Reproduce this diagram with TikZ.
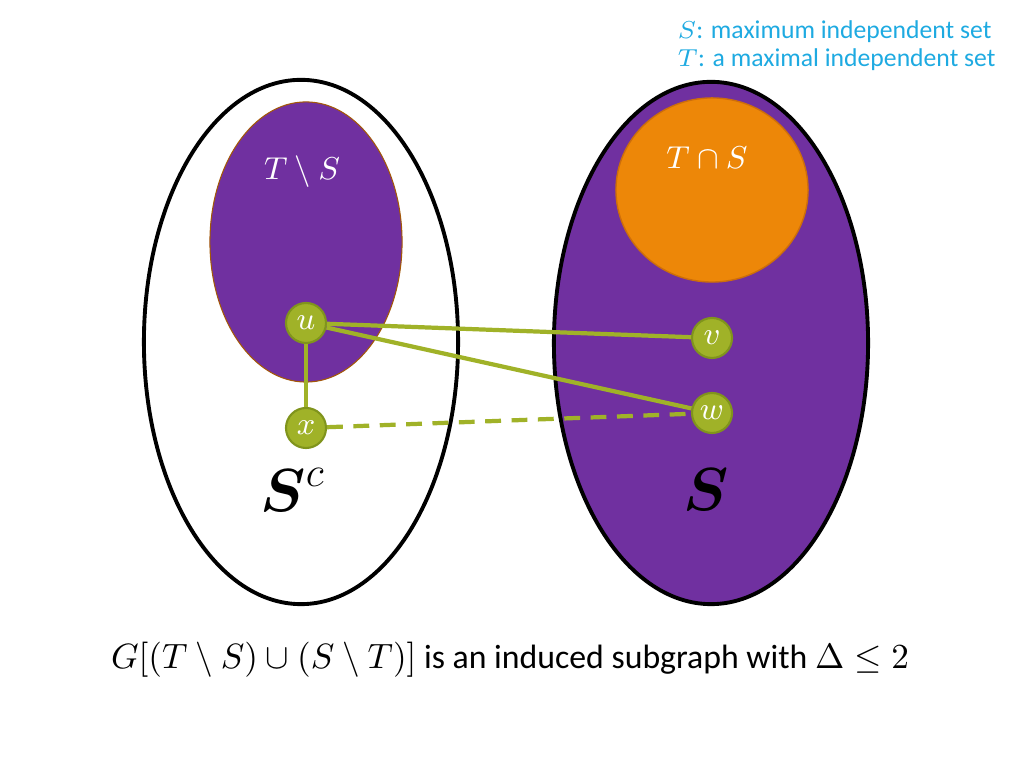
\documentclass[tikz,border=0pt]{standalone}
\usepackage{amsmath, amssymb}
\usepackage{fontspec}
\setmainfont{Carlito}
\usetikzlibrary{positioning,calc}

\definecolor{setpurple}{RGB}{112,48,160}
\definecolor{setorange}{RGB}{237,135,8}
\definecolor{setorangedark}{RGB}{205,110,10}
\definecolor{edgegreen}{RGB}{160,178,40}
\definecolor{edgegreendark}{RGB}{128,148,28}
\definecolor{notecyan}{RGB}{30,170,225}

\begin{document}
\begin{tikzpicture}[x=0.01cm,y=-0.01cm,
    vtx/.style={circle,fill=edgegreen,draw=edgegreendark,line width=0.6pt,
      minimum size=0.4cm,inner sep=0pt,text=white,font=\fontsize{9}{10}\selectfont},
    edge/.style={edgegreen,line width=1.2pt},
    setlabel/.style={text=white,font=\fontsize{9.5}{11}\selectfont}]
      \useasboundingbox (0,0) rectangle (1024,768);
      % the two sides
      \draw[line width=1.1pt,fill=white] (301,342) ellipse [x radius=1.57cm,y radius=2.62cm];
      \fill[setpurple,draw=setorangedark!80!black,line width=0.3pt] (306,242) ellipse [x radius=0.96cm,y radius=1.40cm];
      \draw[line width=1.1pt,fill=setpurple] (711,343) ellipse [x radius=1.57cm,y radius=2.61cm];
      \fill[setorange,draw=setorangedark,line width=0.4pt] (712,190) ellipse [x radius=0.96cm,y radius=0.92cm];
      \node[setlabel] (tms) at (302,172) {$T\setminus S$};
      \node[setlabel] (tcs) at (707,158) {$T\cap S$};
      % vertices
      \node[vtx] (u) at (306,323) {$u$};
      \node[vtx] (x) at (306,428) {$x$};
      \node[vtx] (v) at (712,338) {$v$};
      \node[vtx] (w) at (712,413) {$w$};
      \draw[edge] (u) -- (x);
      \draw[edge] (u) -- (v);
      \draw[edge] (u) -- (w);
      \draw[edge,dash pattern=on 4.5pt off 3pt] (x) -- (w);
      \node[font=\fontsize{17}{20}\selectfont] (sc) at (293,490) {$\boldsymbol{S}^{c}$};
      \node[font=\fontsize{17}{20}\selectfont] (s) at (706,490) {$\boldsymbol{S}$};
      % legend and caption
      \node[anchor=north west,align=left,inner sep=0pt,text=notecyan,
        font=\fontsize{7.3}{8}\selectfont] (note) at (677,20)
        {$S$: maximum independent set\\$T$: a maximal independent set};
      \node[font=\fontsize{9.6}{11}\selectfont] (cap) at (510,660)
        {$G[(T\setminus S)\cup(S\setminus T)]$ is an induced subgraph with $\Delta\leq 2$};
    \end{tikzpicture}
\end{document}
